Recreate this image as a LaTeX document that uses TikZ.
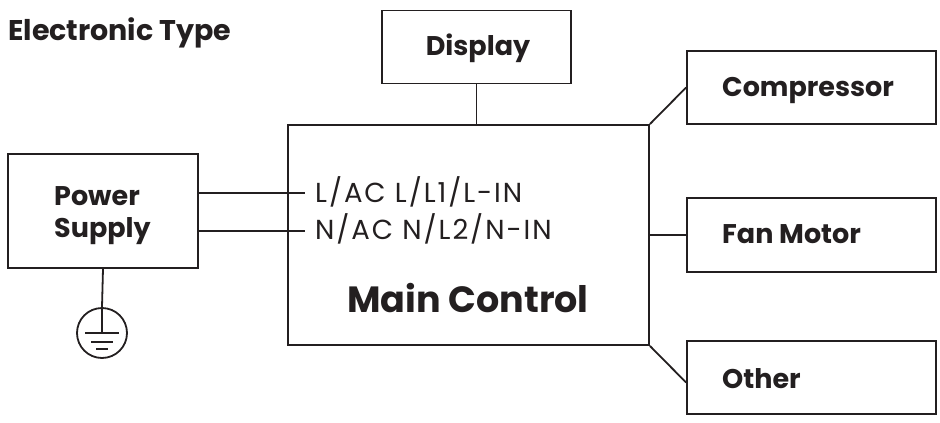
\documentclass[tikz,border=0pt]{standalone}
\usepackage{fontspec}
\setmainfont{Poppins}
\definecolor{ink}{HTML}{231F20}
\begin{document}
\begin{tikzpicture}[x=1pt,y=-1pt,
  box/.style={draw=ink,line width=1.8pt,rectangle,inner sep=0pt},
  wire/.style={draw=ink,line width=1.8pt},
  lbl/.style={text=ink,font=\bfseries\fontsize{27}{32}\selectfont,inner sep=0pt,anchor=base west},
  reg/.style={text=ink,font=\fontsize{27.5}{32}\selectfont\addfontfeature{LetterSpace=7},inner sep=0pt,anchor=base west}]
\useasboundingbox (0,0) rectangle (940,423);
% boxes
\node[box,minimum width=189pt,minimum height=73pt] (disp) at (476.5,47) {};
\node[box,minimum width=361pt,minimum height=220pt] (main) at (468.5,235) {};
\node[box,minimum width=190pt,minimum height=114pt] (ps) at (103,211) {};
\node[box,minimum width=249pt,minimum height=73pt] (comp) at (811.5,87.5) {};
\node[box,minimum width=249pt,minimum height=74pt] (fan) at (811.5,235) {};
\node[box,minimum width=249pt,minimum height=73pt] (other) at (811.5,377.5) {};
\node[draw=ink,line width=1.8pt,circle,minimum size=50pt,inner sep=0pt] (gnd) at (102,333) {};
% labels
\node[lbl,font=\bfseries\fontsize{28.5}{33}\selectfont] (title) at (8,40) {Electronic Type};
\node[lbl,anchor=base] (tdisp) at (478,55) {Display};
\node[lbl] (tps1) at (54,205) {Power};
\node[lbl] (tps2) at (54,237) {Supply};
\node[lbl] (tcomp) at (722,96) {Compressor};
\node[lbl] (tfan) at (722,243) {Fan Motor};
\node[lbl] (tother) at (722,388) {Other};
\node[lbl,font=\bfseries\fontsize{36.5}{42}\selectfont] (tmain) at (347,312) {Main Control};
\node[reg] (tL) at (315,202) {L/AC L/L1/L-IN};
\node[reg] (tN) at (315,239) {N/AC N/L2/N-IN};
% connector ends
\coordinate (Lend) at (305,193);
\coordinate (Nend) at (305,231);
\coordinate (g0) at (102,333);
% connectors
\draw[wire] (disp.south) -- (disp.south |- main.north);
\draw[wire] (ps.east |- Lend) -- (Lend);
\draw[wire] (ps.east |- Nend) -- (Nend);
\draw[wire] (ps.south) -- (gnd.north);
\draw[wire] (main.north east) -- (comp.west);
\draw[wire] (main.east) -- (fan.west);
\draw[wire] (main.south east) -- ([yshift=-5pt]other.west);
% ground symbol
\draw[wire] (gnd.north) -- (g0);
\draw[wire] ([xshift=-17pt]g0) -- ([xshift=17pt]g0);
\draw[wire] ([xshift=-11pt,yshift=-9pt]g0) -- ([xshift=11pt,yshift=-9pt]g0);
\draw[wire] ([xshift=-6pt,yshift=-16pt]g0) -- ([xshift=6pt,yshift=-16pt]g0);
\end{tikzpicture}
\end{document}
